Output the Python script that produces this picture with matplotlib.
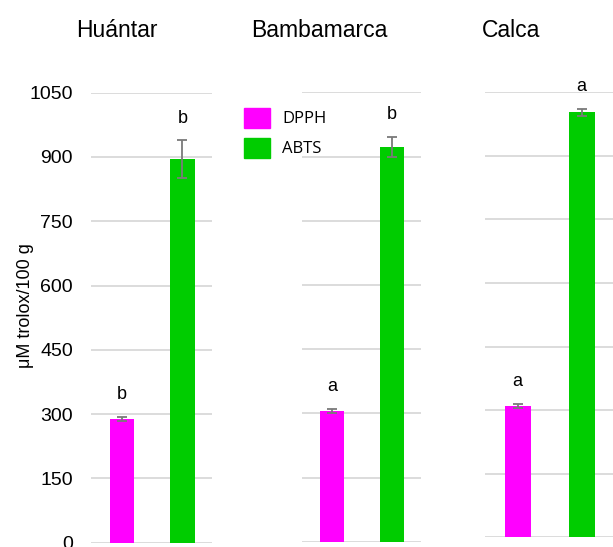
import matplotlib
matplotlib.use("Agg")
import matplotlib.pyplot as plt
from matplotlib.patches import Patch

W, H = 613, 547
sites = ["Huántar", "Bambamarca", "Calca"]
series = ["DPPH", "ABTS"]
dpph = [289, 306, 310]
dpph_err = [5, 5, 5]
abts = [895, 923, 1003]
abts_err = [44, 24, 8]
dpph_letters = ["b", "a", "a"]
abts_letters = ["b", "b", "a"]
yticks = [0, 150, 300, 450, 600, 750, 900, 1050]
colors = ["#FF00FF", "#00CC00"]

fig = plt.figure(figsize=(W / 100, H / 100), dpi=100)
plt.rcParams['font.family'] = ['Liberation Sans', 'DejaVu Sans']

# axes boxes in pixels: left, right, top, bottom
boxes = [(91, 212, 92.7, 542.7), (302, 421, 92.5, 541.7), (485, 613, 92.3, 537.3)]
title_x = [117, 319, 511]

for i, (l, r, t, b) in enumerate(boxes):
    ax = fig.add_axes([l / W, 1 - b / H, (r - l) / W, (b - t) / H])
    ax.set_xlim(-0.51, 1.49)
    ax.set_ylim(0, 1050)
    ax.set_yticks(yticks)
    ax.grid(axis='y', color='#d9d9d9', linewidth=1.3)
    ax.set_axisbelow(True)
    for s in ax.spines.values():
        s.set_visible(False)
    ax.tick_params(axis='both', length=0)
    ax.set_xticks([])
    if i == 0:
        ax.tick_params(axis='y', labelsize=14, pad=13)
    else:
        ax.set_yticklabels([])
    vals = [dpph[i], abts[i]]
    errs = [dpph_err[i], abts_err[i]]
    lets = [dpph_letters[i], abts_letters[i]]
    ax.bar([0, 1], vals, width=0.405, color=colors, zorder=2)
    ax.errorbar([0, 1], vals, yerr=errs, fmt='none', ecolor='#7a7a7a',
                elinewidth=1.3, capsize=3.5, capthick=1.3, zorder=3)
    for x, v, e, s in zip([0, 1], vals, errs, lets):
        ax.annotate(s, (x, v + e), xytext=(0, 16), textcoords='offset points',
                    ha='center', va='center', fontsize=13, annotation_clip=False)
    fig.text(title_x[i] / W, 1 - 37 / H, sites[i], fontsize=16.5,
             ha='center', va='baseline')

fig.text(26 / W, 1 - 306 / H, "μM trolox/100 g", fontsize=13, rotation=90,
         ha='center', va='center')

handles = [Patch(facecolor=c, edgecolor=c) for c in colors]
leg = fig.legend(handles, series, loc='upper left',
                 bbox_to_anchor=(229 / W, 1 - 93 / H), frameon=False,
                 prop={'family': 'Open Sans', 'size': 12},
                 handlelength=1.55, handleheight=1.45, handletextpad=0.75,
                 labelspacing=0.6)

fig.savefig("out.png", dpi=100)
